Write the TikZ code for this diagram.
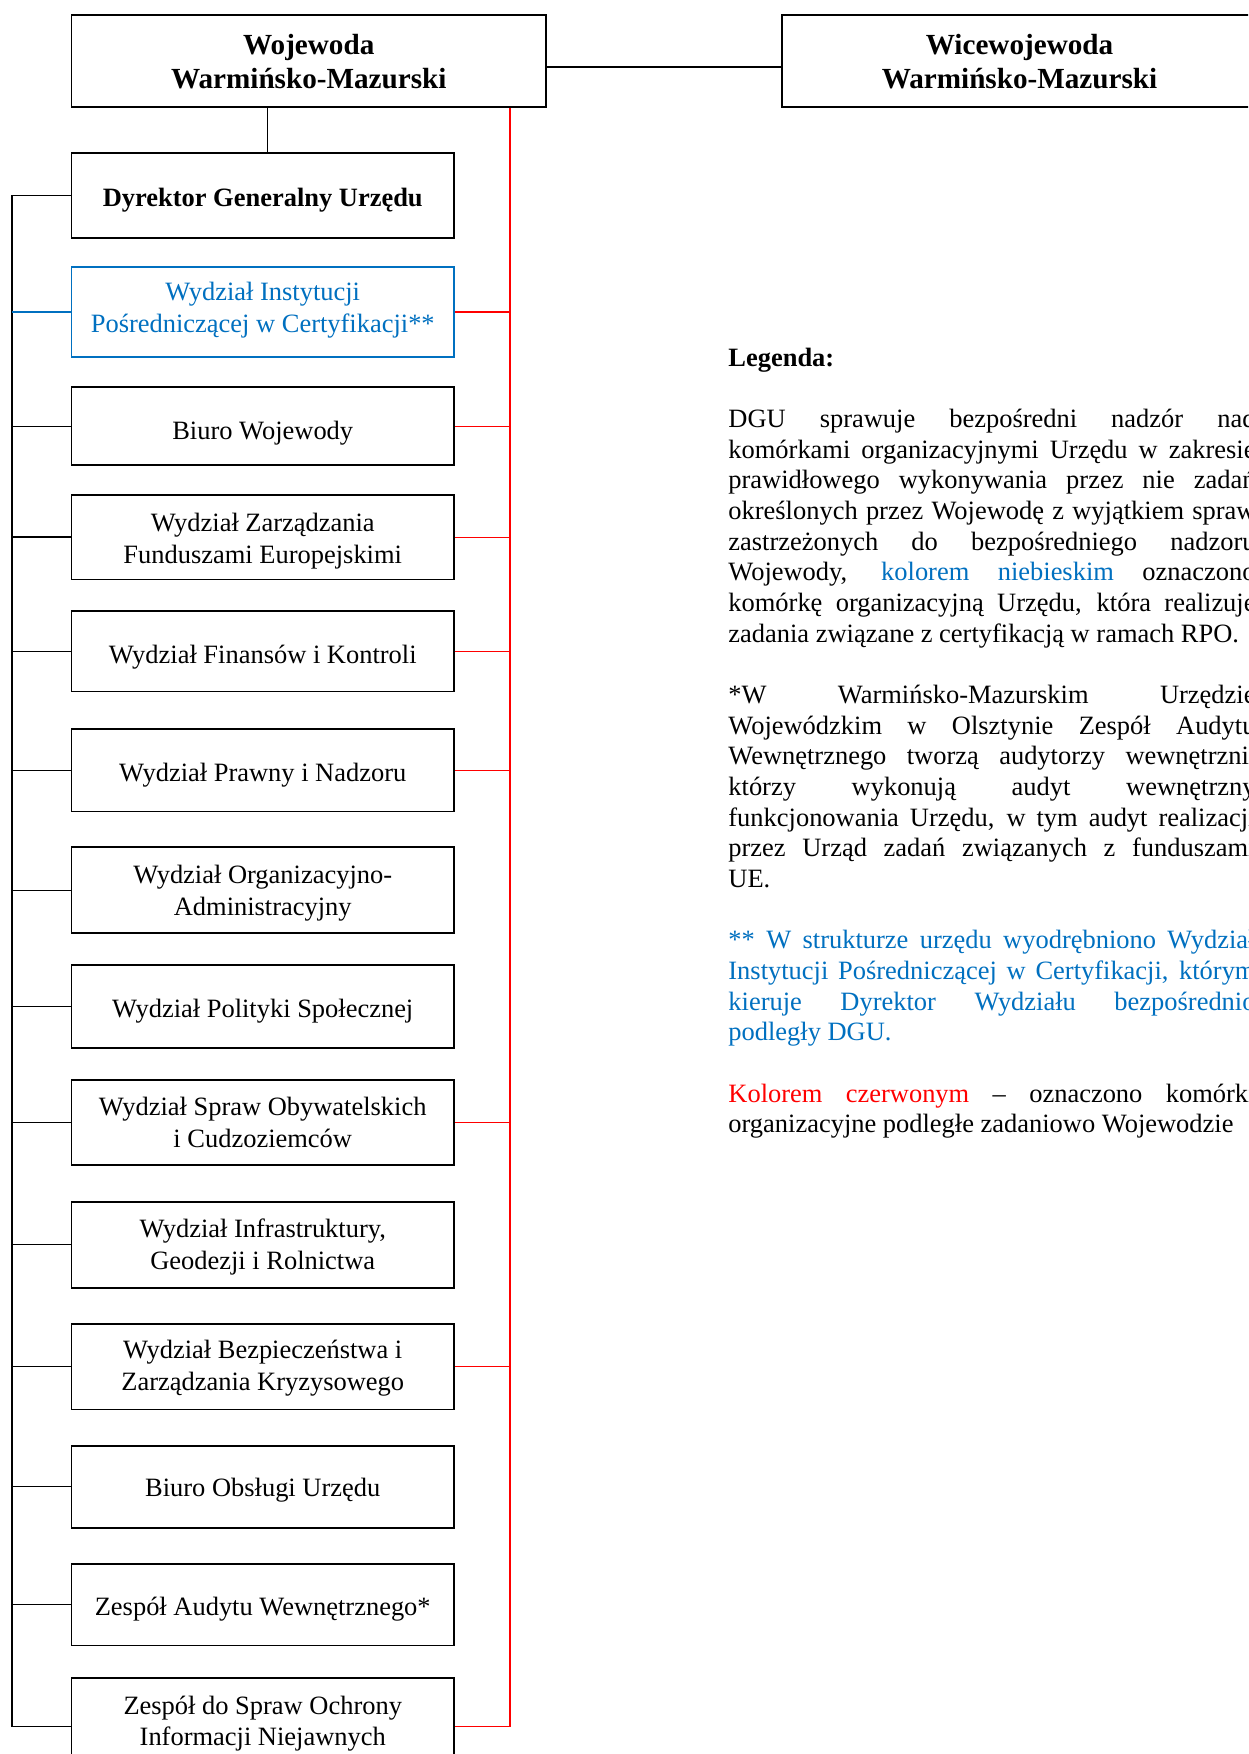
\documentclass[tikz,border=0pt]{standalone}
\usepackage{fontspec}
\setmainfont{Liberation Serif}
\definecolor{wblue}{HTML}{0070C0}
\definecolor{wred}{HTML}{FF0000}
\hyphenpenalty=10000
\exhyphenpenalty=10000
\tolerance=10000
\hbadness=10000
\newcommand\tp[1]{\rule{0pt}{#1pt}}
\newcommand\bp[1]{\rule[-#1pt]{0pt}{0pt}}
\begin{document}
\begin{tikzpicture}[x=0.48pt,y=-0.48pt,
  unit/.style={draw, line width=0.8pt, inner sep=0pt, minimum width=183.6pt, align=center,
    font=\fontsize{12.7}{15.2}\selectfont},
  bunit/.style={unit, font=\bfseries\fontsize{12.7}{15.2}\selectfont},
  title/.style={draw, line width=0.8pt, inner sep=0pt, minimum width=227.8pt, minimum height=44.3pt,
    align=center, font=\bfseries\fontsize{14}{16.3}\selectfont},
  hh/.style={minimum height=#1*0.48pt},
  blueunit/.style={unit, draw=wblue, text=wblue},
  conn/.style={line width=0.7pt, black},
  bconn/.style={line width=0.7pt, wblue},
  rconn/.style={line width=0.6pt, wred},
  legend/.style={inner sep=0pt, text width=253pt, align=justify,
    font=\fontsize{12.7}{14.72}\selectfont}
]
\useasboundingbox (0,0) rectangle (1248,1754);
\clip (0,0) rectangle (1248,1754);
\fill[white] (0,0) rectangle (1248,1754);

% top boxes
\node[title] (woj) at (308.75,61.15) {Wojewoda\\Warmińsko-Mazurski};
\node[title] (wice) at (1019.5,61.15) {Wicewojewoda\\Warmińsko-Mazurski};

% column of units
\node[bunit, hh=85] (dgu) at (262.75,195.7) {\tp{13.1}Dyrektor Generalny Urzędu};
\node[blueunit, hh=90] (wipc) at (262.75,312) {Wydział Instytucji\\Pośredniczącej w Certyfikacji**\bp{4.4}};
\node[unit, hh=78] (bw) at (262.75,426.3) {\tp{15.2}Biuro Wojewody};
\node[unit, hh=84.3] (wzfe) at (262.75,537.2) {\tp{12.6}Wydział Zarządzania\\Funduszami Europejskimi};
\node[unit, hh=80.7] (wfik) at (262.75,651.3) {\tp{14.2}Wydział Finansów i Kontroli};
\node[unit, hh=82.7] (wpin) at (262.75,770.3) {\tp{13.1}Wydział Prawny i Nadzoru};
\node[unit, hh=86] (woa) at (262.75,890.3) {\tp{11.6}Wydział Organizacyjno-\\Administracyjny};
\node[unit, hh=82.4] (wps) at (262.75,1006.5) {\tp{13.1}Wydział Polityki Społecznej};
\node[unit, hh=85.6] (wsoic) at (262.75,1122.5) {Wydział Spraw Obywatelskich\\i Cudzoziemców};
\node[unit, hh=86] (wigir) at (262.75,1244.7) {\tp{11}Wydział Infrastruktury,\\Geodezji i Rolnictwa};
\node[unit, hh=85.3] (wbizk) at (262.75,1366.7) {\tp{10.4}Wydział Bezpieczeństwa i\\Zarządzania Kryzysowego};
\node[unit, hh=82] (bou) at (262.75,1486.7) {\tp{12}Biuro Obsługi Urzędu};
\node[unit, hh=81.3] (zaw) at (262.75,1604.7) {\tp{13.1}Zespół Audytu Wewnętrznego*};
\node[unit, hh=86] (zds) at (262.75,1720.7) {\tp{11.6}Zespół do Spraw Ochrony\\Informacji Niejawnych};

% helper coordinates
\coordinate (lx) at (12,0);
\coordinate (rx) at (510,0);
\coordinate (wojr) at ([yshift=-2.88pt]woj.east);
\coordinate (wicel) at ([yshift=-2.88pt]wice.west);
\coordinate (dn) at ([xshift=2.28pt]dgu.north);
\coordinate (zdw) at ([yshift=-2.9pt]zds.west);
\coordinate (zde) at ([yshift=-2.9pt]zds.east);

% black connectors
\draw[conn] (wojr) -- (wicel);
\draw[conn] (dn) -- (dn |- woj.south);
\draw[conn] (dgu.west) -- (dgu.west -| lx) -- (zdw -| lx) -- (zdw);
\draw[bconn] (wipc.west) -- (wipc.west -| lx);
\foreach \n in {bw,wzfe,wfik,wpin,woa,wps,wsoic,wigir,wbizk,bou,zaw}
  \draw[conn] (\n.west) -- (\n.west -| lx);

% red connectors
\draw[rconn] (woj.south -| rx) -- (zde -| rx) -- (zde);
\foreach \n in {wipc,bw,wzfe,wfik,wpin,wsoic,wbizk}
  \draw[rconn] (\n.east) -- (\n.east -| rx);

% legend
\node[legend, anchor=base west] (leg) at (728,366) {%
\textbf{Legenda:}\par\vspace{\baselineskip}
DGU sprawuje bezpośredni nadzór nad\linebreak
komórkami organizacyjnymi Urzędu w zakresie\linebreak
prawidłowego wykonywania przez nie zadań\linebreak
określonych przez Wojewodę z wyjątkiem spraw\linebreak
zastrzeżonych do bezpośredniego nadzoru\linebreak
Wojewody, \textcolor{wblue}{kolorem niebieskim} oznaczono\linebreak
komórkę organizacyjną Urzędu, która realizuje\linebreak
zadania związane z certyfikacją w ramach RPO.\par\vspace{\baselineskip}
*W Warmińsko-Mazurskim Urzędzie\linebreak
Wojewódzkim w Olsztynie Zespół Audytu\linebreak
Wewnętrznego tworzą audytorzy wewnętrzni,\linebreak
którzy wykonują audyt wewnętrzny\linebreak
funkcjonowania Urzędu, w tym audyt realizacji\linebreak
przez Urząd zadań związanych z funduszami\linebreak
UE.\par\vspace{\baselineskip}
{\color{wblue}** W strukturze urzędu wyodrębniono Wydział\linebreak
Instytucji Pośredniczącej w Certyfikacji, którym\linebreak
kieruje Dyrektor Wydziału bezpośrednio\linebreak
podległy DGU.\par}\vspace{\baselineskip}
\textcolor{wred}{Kolorem czerwonym} – oznaczono komórki\linebreak
organizacyjne podległe zadaniowo Wojewodzie\par};
\end{tikzpicture}
\end{document}
